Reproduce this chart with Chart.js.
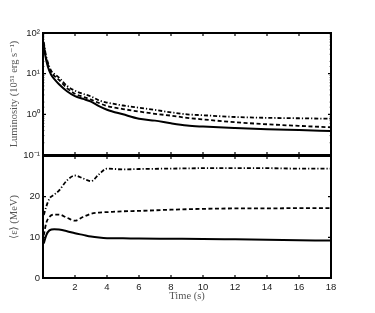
<!DOCTYPE html>
<html>
<head>
<meta charset="utf-8">
<script src="https://cdn.jsdelivr.net/npm/chart.js@4/dist/chart.umd.min.js"></script>
<style>
    html, body { margin: 0; padding: 0; background: #fff; }
    #wrap { position: relative; width: 375px; height: 313px; }
    #wrap canvas { position: absolute; left: 0; }
    #lumChart { top: 0; }
    #energyChart { top: 140px; }
</style>
</head>
<body>
<div id="wrap">
    <canvas id="lumChart" width="375" height="172"></canvas>
    <canvas id="energyChart" width="375" height="173"></canvas>
</div>
<script>
/**
 * Neutrino luminosity and mean energy vs time - two stacked panels
 */

// Luminosity panel (10^51 erg/s)
const lumTimes = [0.05, 0.15, 0.3, 0.5, 0.75, 1, 1.5, 2, 2.5, 3, 3.5, 4, 5, 6, 7, 8, 9, 10, 12, 14, 16, 18];
const lumSolid = [50, 27, 15, 9.5, 7, 5.5, 3.7, 2.8, 2.4, 2.05, 1.6, 1.3, 1.0, 0.78, 0.7, 0.6, 0.53, 0.5, 0.46, 0.43, 0.41, 0.39];
const lumDashed = [55, 30, 17, 11, 8.5, 7, 4.4, 3.2, 2.7, 2.3, 1.9, 1.6, 1.35, 1.17, 1.03, 0.93, 0.82, 0.75, 0.64, 0.57, 0.52, 0.48];
const lumDashDot = [60, 33, 19, 12, 9.5, 8, 5, 3.8, 3.2, 2.75, 2.2, 1.95, 1.65, 1.45, 1.28, 1.12, 1.0, 0.95, 0.86, 0.82, 0.8, 0.78];

// Mean energy panel (MeV)
const energyTimes = [0.05, 0.2, 0.4, 0.7, 1, 1.5, 2, 2.5, 3, 3.5, 4, 5, 6, 8, 10, 12, 14, 16, 18];
const energySolid = [8.5, 10.5, 11.7, 12.0, 11.9, 11.5, 11.0, 10.6, 10.2, 9.95, 9.8, 9.75, 9.7, 9.65, 9.6, 9.5, 9.4, 9.3, 9.2];
const energyDashed = [10.5, 13.5, 15, 15.6, 15.6, 14.8, 14.1, 15.0, 15.8, 16.1, 16.2, 16.4, 16.5, 16.8, 17.0, 17.1, 17.1, 17.2, 17.2];
const energyDashDot = [15.5, 17.5, 19.5, 20.5, 21.5, 24, 25.2, 24.5, 23.8, 25.5, 26.9, 26.7, 26.8, 26.9, 27, 27, 27, 26.9, 26.9];

// Axis ticks
const timeTicks = [2, 4, 6, 8, 10, 12, 14, 16, 18];
const lumTickLabels = { 100: '10²', 10: '10¹', 1: '10⁰', 0.1: '10⁻¹' };
const energyTickLabels = [0, 10, 20];

const tickFont = { family: "'Liberation Sans', Arial, sans-serif", size: 9.5 };
const titleFont = { family: "'Liberation Serif', 'DejaVu Serif', serif", size: 10.5 };

function pairs(xs, ys) {
    return xs.map((x, i) => ({ x: x, y: ys[i] }));
}

function lineSet(data, dash, yID) {
    return {
        data: data,
        borderColor: '#000',
        borderWidth: dash.length ? 1.8 : 2,
        borderDash: dash,
        pointRadius: 0,
        fill: false,
        cubicInterpolationMode: 'monotone',
        yAxisID: yID
    };
}

/**
 * Box frame with inward tick marks, like the original figure
 */
const framePlugin = {
    id: 'frame',
    afterDatasetsDraw(chart) {
        const { ctx, chartArea: a, scales } = chart;
        const xs = scales.x;
        const ys = scales.y;
        ctx.save();
        ctx.strokeStyle = '#000';

        // inward ticks along x
        ctx.lineWidth = 1.2;
        timeTicks.forEach(v => {
            const px = xs.getPixelForValue(v);
            ctx.beginPath();
            ctx.moveTo(px, a.top); ctx.lineTo(px, a.top + 3);
            ctx.moveTo(px, a.bottom); ctx.lineTo(px, a.bottom - 3);
            ctx.stroke();
        });

        // inward ticks along y (minor ones shorter on the log scale)
        ys.ticks.forEach(t => {
            const py = ys.getPixelForValue(t.value);
            let len = 3;
            if (ys.type === 'logarithmic') {
                const lg = Math.log10(t.value);
                if (Math.abs(lg - Math.round(lg)) > 1e-6) len = 1.5;
            }
            ctx.lineWidth = len > 2 ? 1.2 : 0.6;
            ctx.beginPath();
            ctx.moveTo(a.left, py); ctx.lineTo(a.left + len, py);
            ctx.moveTo(a.right, py); ctx.lineTo(a.right - len, py);
            ctx.stroke();
        });

        ctx.lineWidth = 2;
        ctx.strokeRect(a.left, a.top, a.right - a.left, a.bottom - a.top);
        ctx.restore();
    }
};

function baseX(showLabels) {
    return {
        type: 'linear',
        min: 0,
        max: 18,
        grid: { display: false, drawTicks: false },
        border: { display: false },
        ticks: {
            display: showLabels,
            stepSize: 2,
            padding: 4,
            color: '#222',
            font: tickFont,
            maxRotation: 0,
            callback: v => (v === 0 ? '' : v)
        }
    };
}

// Top panel: luminosity on a log axis
const lumX = baseX(false);
lumX.afterFit = s => { s.height = 17; };

new Chart(document.getElementById('lumChart'), {
    type: 'line',
    data: {
        datasets: [
            lineSet(pairs(lumTimes, lumSolid), [], 'y'),
            lineSet(pairs(lumTimes, lumDashed), [4, 2.5], 'y'),
            lineSet(pairs(lumTimes, lumDashDot), [4, 2, 1.2, 2], 'y')
        ]
    },
    options: {
        responsive: false,
        animation: false,
        events: [],
        layout: { padding: { left: 0, right: 44, top: 33, bottom: 0 } },
        plugins: { legend: { display: false }, tooltip: { enabled: false } },
        scales: {
            x: lumX,
            y: {
                type: 'logarithmic',
                min: 0.1,
                max: 100,
                afterFit: s => { s.width = 43; },
                grid: { display: false, drawTicks: false },
                border: { display: false },
                ticks: {
                    autoSkip: false,
                    padding: 3,
                    color: '#222',
                    font: tickFont,
                    callback: v => lumTickLabels[v] || ''
                },
                title: {
                    display: true,
                    text: 'Luminosity (10⁵¹ erg s⁻¹)',
                    color: '#555',
                    font: titleFont,
                    padding: { top: 8, bottom: 0 }
                }
            }
        }
    },
    plugins: [framePlugin]
});

// Bottom panel: mean energy
const energyX = baseX(true);
energyX.afterFit = s => { s.height = 35; };
energyX.title = {
    display: true,
    text: 'Time (s)',
    color: '#555',
    font: titleFont,
    padding: { top: 0, bottom: 10 }
};

new Chart(document.getElementById('energyChart'), {
    type: 'line',
    data: {
        datasets: [
            lineSet(pairs(energyTimes, energySolid), [], 'y'),
            lineSet(pairs(energyTimes, energyDashed), [4, 2.5], 'y'),
            lineSet(pairs(energyTimes, energyDashDot), [4, 2, 1.2, 2], 'y')
        ]
    },
    options: {
        responsive: false,
        animation: false,
        events: [],
        layout: { padding: { left: 0, right: 44, top: 16, bottom: 0 } },
        plugins: { legend: { display: false }, tooltip: { enabled: false } },
        scales: {
            x: energyX,
            y: {
                type: 'linear',
                min: 0,
                max: 30,
                afterFit: s => { s.width = 43; },
                grid: { display: false, drawTicks: false },
                border: { display: false },
                ticks: {
                    stepSize: 10,
                    padding: 3,
                    color: '#222',
                    font: tickFont,
                    callback: v => (energyTickLabels.includes(v) ? v : '')
                },
                title: {
                    display: true,
                    text: '⟨ε⟩ (MeV)',
                    color: '#555',
                    font: titleFont,
                    padding: { top: 8, bottom: 0 }
                }
            }
        }
    },
    plugins: [framePlugin]
});
</script>
</body>
</html>
